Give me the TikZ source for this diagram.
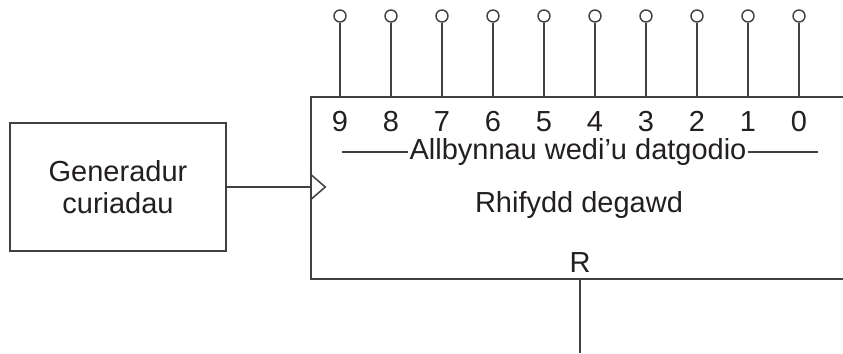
\documentclass[tikz,border=0pt]{standalone}
\usepackage{fontspec}
\setmainfont{Liberation Sans}
\usepackage{tikz}
\usetikzlibrary{positioning, calc}
\definecolor{darkline}{RGB}{64,64,64}
\definecolor{darktext}{RGB}{35,31,32}
\tikzset{
  blk/.style={draw=darkline, line width=0.85pt, align=center,
              minimum width=#1, inner sep=0pt},
  pin/.style={circle, draw=darkline, fill=white, line width=0.8pt,
              minimum size=0.24cm, inner sep=0pt},
  wire/.style={draw=darkline, line width=0.85pt},
  num/.style={anchor=base, inner sep=0pt},
}

\begin{document}
\begin{tikzpicture}[
      every node/.style={font=\fontsize{16.5}{18.5}\selectfont, text=darktext},
    ]
    \useasboundingbox (0,0) rectangle (16.86,7.06);
    \clip (0,0) rectangle (16.86,7.06);

    % ─── Pulse generator ───────────────────────────────────────────────
    \node[blk=4.32cm, minimum height=2.56cm] (gen) at (2.36,3.32) {Generadur\\curiadau};

    % ─── Decade counter (right side runs off the page) ─────────────────
    \node[blk=10.76cm, minimum height=3.64cm] (cnt) at (11.6,3.3) {};

    % Clock input
    \coordinate (clk) at (cnt.west |- gen.east);
    \draw[wire] (gen.east) -- (clk);
    \draw[wire] ($(clk)+(0,0.26)$) -- ++(0.3,-0.26) -- ++(-0.3,-0.26);

    % Labels inside
    \node[inner sep=0.5pt] (outs) at (11.56,4.02) {Allbynnau wedi'u datgodio};
    \coordinate (outsL) at (6.84,4.02);
    \coordinate (outsR) at (16.36,4.02);
    \draw[wire] (outsL) -- (outs.west);
    \draw[wire] (outs.east) -- (outsR);
    \node[num] (name) at (11.58,2.82) {Rhifydd degawd};

    % Reset
    \node[num] (rst) at (11.6,1.62) {R};
    \coordinate (rstEnd) at (11.6,0);
    \draw[wire] (cnt.south) -- (rstEnd);

    % ─── Decoded outputs 9..0 ──────────────────────────────────────────
    \node[pin] (p9) at (6.80,6.74) {};
    \node[pin] (p8) at (7.82,6.74) {};
    \node[pin] (p7) at (8.84,6.74) {};
    \node[pin] (p6) at (9.86,6.74) {};
    \node[pin] (p5) at (10.88,6.74) {};
    \node[pin] (p4) at (11.90,6.74) {};
    \node[pin] (p3) at (12.92,6.74) {};
    \node[pin] (p2) at (13.94,6.74) {};
    \node[pin] (p1) at (14.96,6.74) {};
    \node[pin] (p0) at (15.98,6.74) {};
    \draw[wire] (p9) -- (p9 |- cnt.north);
    \draw[wire] (p8) -- (p8 |- cnt.north);
    \draw[wire] (p7) -- (p7 |- cnt.north);
    \draw[wire] (p6) -- (p6 |- cnt.north);
    \draw[wire] (p5) -- (p5 |- cnt.north);
    \draw[wire] (p4) -- (p4 |- cnt.north);
    \draw[wire] (p3) -- (p3 |- cnt.north);
    \draw[wire] (p2) -- (p2 |- cnt.north);
    \draw[wire] (p1) -- (p1 |- cnt.north);
    \draw[wire] (p0) -- (p0 |- cnt.north);

    % Output numbers
    \node[num] (d9) at (6.80,4.43) {9};
    \node[num] (d8) at (7.82,4.43) {8};
    \node[num] (d7) at (8.84,4.43) {7};
    \node[num] (d6) at (9.86,4.43) {6};
    \node[num] (d5) at (10.88,4.43) {5};
    \node[num] (d4) at (11.90,4.43) {4};
    \node[num] (d3) at (12.92,4.43) {3};
    \node[num] (d2) at (13.94,4.43) {2};
    \node[num] (d1) at (14.96,4.43) {1};
    \node[num] (d0) at (15.98,4.43) {0};

  \end{tikzpicture}
\end{document}
